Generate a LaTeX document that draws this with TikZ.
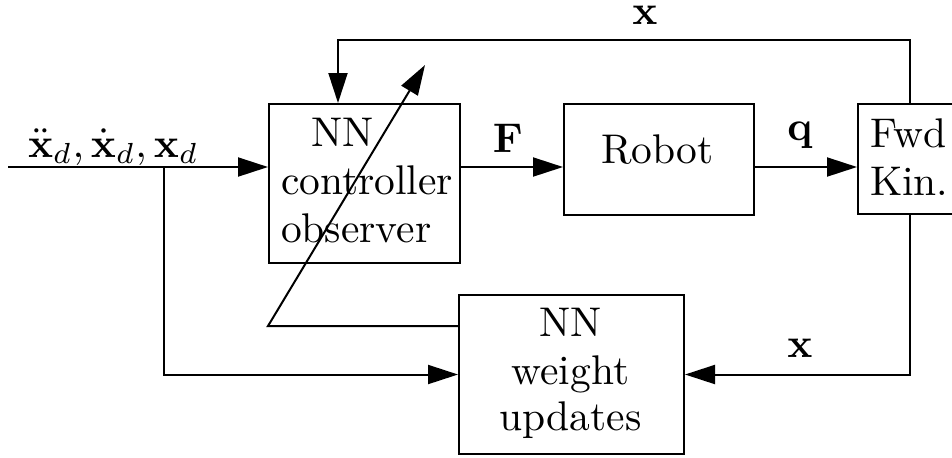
\documentclass[tikz,border=0pt]{standalone}
\usetikzlibrary{arrows.meta}
% text is set at 10pt and enlarged, keeping the 10pt design proportions
\newcommand{\magtext}[1]{\scalebox{2.074}{#1}}
\begin{document}
\begin{tikzpicture}[x=0.5pt,y=-0.5pt,
  line width=1pt,
  blk/.style={draw, line width=1pt, inner sep=0pt, anchor=north west},
  txt/.style={inner sep=0pt, font=\fontsize{10}{12}\selectfont},
  sig/.style={-{Triangle[length=15pt,width=9.5pt]}},
]
\useasboundingbox (0,0) rectangle (952,457);

% blocks
\node[blk, minimum width=95.5pt, minimum height=79.5pt] (ctrl) at (268,103) {};
\node[blk, minimum width=95pt, minimum height=55.5pt] (robot) at (563,103) {};
\node[blk, minimum width=52pt, minimum height=55pt] (fk) at (857,103) {};
\node[blk, minimum width=112.5pt, minimum height=79.5pt] (wu) at (458,294) {};

% block texts
\node[txt, anchor=base west] (ctrl1) at (310,146) {\magtext{NN}};
\node[txt, anchor=base west] (ctrl2) at (280,194) {\magtext{controller}};
\node[txt, anchor=base west] (ctrl3) at (280,242) {\magtext{observer}};
\node[txt, anchor=base] (robot1) at (657.5,163) {\magtext{Robot}};
\node[txt, anchor=base west] (fk1) at (869,147) {\magtext{Fwd}};
\node[txt, anchor=base west] (fk2) at (869,195) {\magtext{Kin.}};
\node[txt, anchor=base] (wu1) at (570.5,336) {\magtext{NN}};
\node[txt, anchor=base] (wu2) at (570.5,384) {\magtext{weight}};
\node[txt, anchor=base] (wu3) at (570.5,430) {\magtext{updates}};

% signal labels
\node[txt, anchor=base west] (lin) at (27,157) {\magtext{$\ddot{\mathbf{x}}_d, \dot{\mathbf{x}}_d, \mathbf{x}_d$}};
\node[txt, anchor=base] (lF) at (508,152) {\magtext{$\mathbf{F}$}};
\node[txt, anchor=base] (lq) at (800,140) {\magtext{$\mathbf{q}$}};
\node[txt, anchor=base] (lxt) at (645,24) {\magtext{$\mathbf{x}$}};
\node[txt, anchor=base] (lxb) at (800,357) {\magtext{$\mathbf{x}$}};

% connectors
\coordinate (in) at (8,167);
\coordinate (split) at (164,167);
\coordinate (fbtop) at (338,40);
\coordinate (tune) at (268,326);
\coordinate (tunetip) at (425,65);

\draw[sig] (in) -- (in -| ctrl.west);
\draw[sig] (in -| ctrl.east) -- (in -| robot.west);
\draw[sig] (in -| robot.east) -- (in -| fk.west);
\draw[sig] (split) |- (wu.west);
\draw[sig] (fk.north) |- (fbtop) -- (fbtop |- ctrl.north);
\draw[sig] (fk.south) |- (wu.east);
\draw[sig] (tune -| wu.west) -- (tune) -- (tunetip);
\end{tikzpicture}
\end{document}
